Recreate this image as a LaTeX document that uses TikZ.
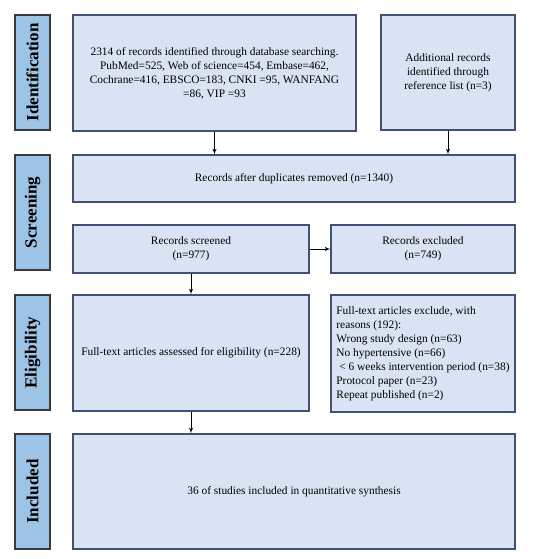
\documentclass[tikz,border=0pt]{standalone}
\usepackage{fontspec}
\setmainfont{Liberation Serif}
\usepackage{tikz}
\usetikzlibrary{arrows}

\definecolor{boxfill}{HTML}{DAE3F3}
\definecolor{boxline}{HTML}{3F5275}
\definecolor{stagefill}{HTML}{9DC3E6}
\definecolor{stageline}{HTML}{3A3A3A}

\begin{document}
\begin{tikzpicture}
  %[->,>=stealth',shorten >=1pt]
  [x=1pt,y=-1pt,->,>=latex',line width=0.9pt,
   box/.style={draw=boxline,fill=boxfill,line width=1.2pt,inner sep=0pt,align=center,font=\fontsize{11.4}{14}\selectfont},
   stage/.style={draw=stageline,fill=stagefill,line width=1.2pt,inner sep=0pt,rotate=90,minimum width=115pt,minimum height=35pt,font=\fontsize{17}{20}\selectfont\bfseries}]
  \useasboundingbox (0,0) rectangle (538,559);

  \node[stage] (nid) at (32.5,72.5)  {Identification};
  \node[stage] (nsc) at (32.5,212.5) {Screening};
  \node[stage] (nel) at (32.5,352.5) {Eligibility};
  \node[stage] (nin) at (32.5,491.5) {Included};

  \node[box,minimum width=283pt,minimum height=116pt] (ndb) at (214.5,73) {2314 of records identified through database searching.\\PubMed=525, Web of science=454, Embase=462,\\Cochrane=416, EBSCO=183, CNKI =95, WANFANG\\=86, VIP =93};
  \node[box,minimum width=134pt,minimum height=115pt] (nadd) at (448,72.5) {Additional records\\identified through\\reference list (n=3)};
  \node[box,minimum width=442pt,minimum height=47pt] (ndup) at (294,178.5) {Records after duplicates removed (n=1340)};
  \node[box,minimum width=236pt,minimum height=48pt] (nscr) at (191,249) {Records screened\\(n=977)};
  \node[box,minimum width=184pt,minimum height=48pt] (nexc) at (423,249) {Records excluded\\(n=749)};
  \node[box,minimum width=236pt,minimum height=116pt] (nft) at (191,353) {Full-text articles assessed for eligibility (n=228)};
  \node[box,align=left,minimum width=184pt,minimum height=117pt] (nrs) at (423,353.5) {Full-text articles exclude, with\\reasons (192):\\Wrong study design (n=63)\\No hypertensive (n=66)\\\hspace*{3pt}< 6 weeks intervention period (n=38)\\Protocol paper (n=23)\\Repeat published (n=2)};
  \node[box,minimum width=442pt,minimum height=115pt] (ninc) at (294,491.5) {36 of studies included in quantitative synthesis};

  \path (ndb) edge (ndb |- ndup.north);
  \path (nadd) edge (nadd |- ndup.north);
  \path (nscr) edge (nexc);
  \path (nscr) edge (nft);
  \path (nft) edge (nft |- ninc.north);

\end{tikzpicture}
\end{document}
